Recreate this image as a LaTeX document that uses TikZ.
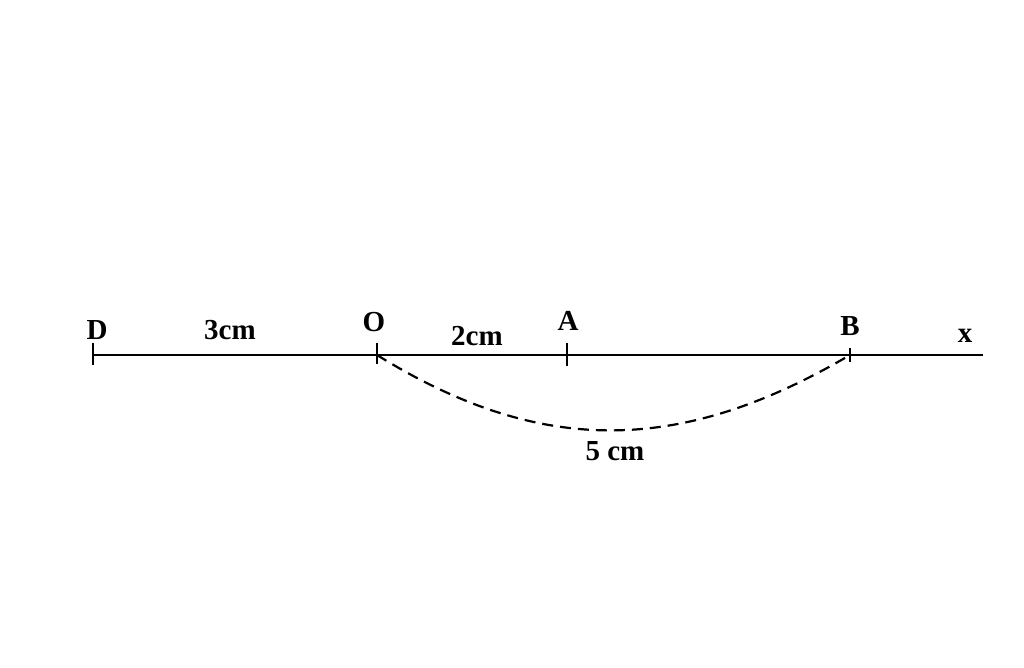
\documentclass[tikz,border=0pt]{standalone}
\usepackage{fontspec}
\setmainfont{Liberation Serif}
\begin{document}
\begin{tikzpicture}[x=1pt,y=-1pt,
  lbl/.style={font=\bfseries\fontsize{29}{33}\selectfont, inner sep=0pt, anchor=base},
  axis/.style={line width=2.4pt},
  tick/.style={line width=2pt},
  arcline/.style={line width=2.2pt, dash pattern=on 11pt off 7pt}]
\useasboundingbox (0,0) rectangle (1024,667);
\coordinate (D) at (93,355);
\coordinate (O) at (377,355);
\coordinate (A) at (567,355);
\coordinate (B) at (850,355);
\coordinate (X) at (983,355);
\draw[axis] (D) -- (X);
\draw[tick] ([yshift=-10]D) -- ([yshift=12]D);
\draw[tick] ([yshift=-9]O) -- ([yshift=12]O);
\draw[tick] ([yshift=-11]A) -- ([yshift=12]A);
\draw[tick] ([yshift=-7]B) -- ([yshift=7]B);
\draw[arcline] (O) .. controls (540,456) and (680,455) .. (B);
\node[lbl] (lD) at (97,339) {D};
\node[lbl] (l3) at (230,339) {3cm};
\node[lbl] (lO) at (374,331) {O};
\node[lbl] (l2) at (477,345) {2cm};
\node[lbl] (lA) at (568,330) {A};
\node[lbl] (lB) at (850,335) {B};
\node[lbl] (lX) at (965,342) {x};
\node[lbl] (l5) at (615,460) {5 cm};
\end{tikzpicture}
\end{document}
